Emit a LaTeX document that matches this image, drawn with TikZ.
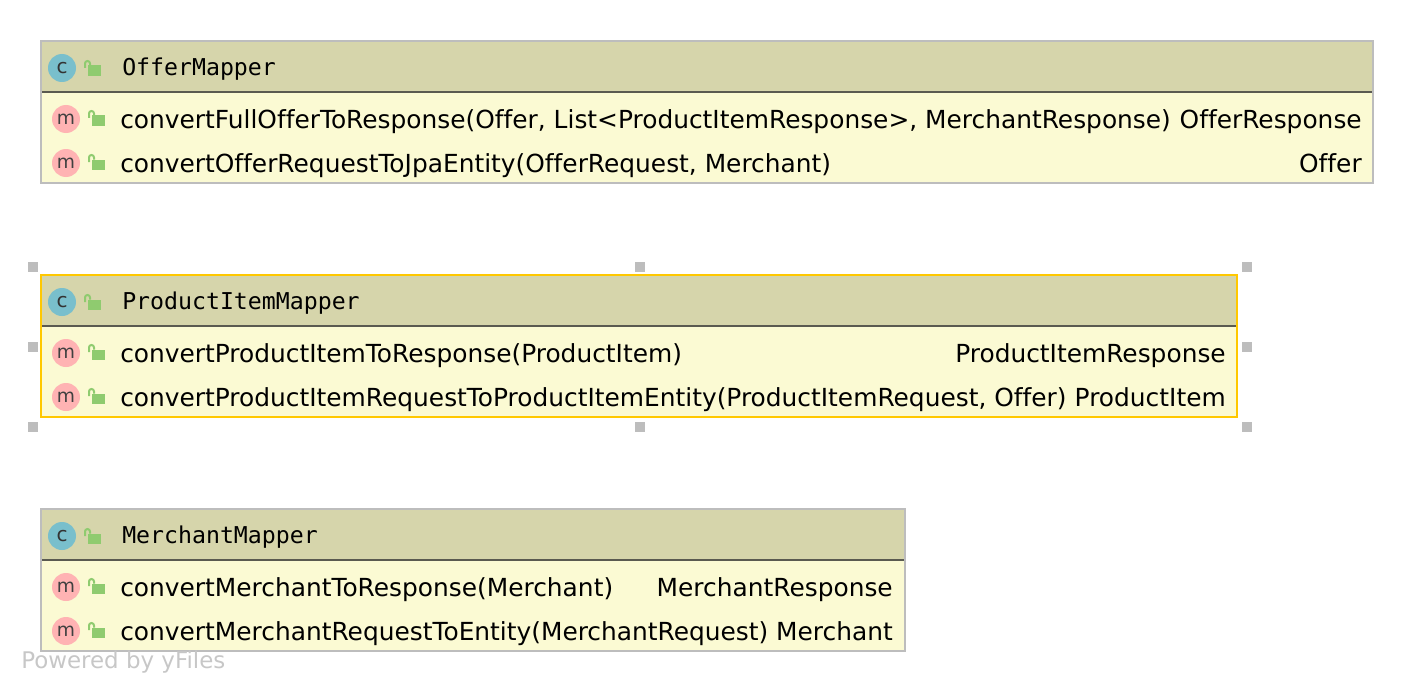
\documentclass[tikz,border=0pt]{standalone}
\usepackage{fontspec}
\setmainfont[Ligatures=NoCommon]{DejaVu Sans}
\setmonofont{DejaVu Sans Mono}
\usetikzlibrary{positioning}

\definecolor{headfill}{HTML}{D6D5AB}
\definecolor{bodyfill}{HTML}{FBFAD3}
\definecolor{plainedge}{HTML}{BDBDBD}
\definecolor{pickedge}{HTML}{FFC800}
\definecolor{rulecol}{HTML}{5A5A50}
\definecolor{classcol}{HTML}{79BFCC}
\definecolor{methodcol}{HTML}{FFB3B3}
\definecolor{lockcol}{HTML}{8FCB6F}

\tikzset{
    classbody/.style={anchor=north west, inner sep=0pt, outer sep=0pt, fill=bodyfill, minimum height=106.5pt},
    classhead/.style={anchor=north west, inner sep=0pt, outer sep=0pt, fill=headfill, minimum height=38.6pt},
    classedge/.style={anchor=north west, inner sep=0pt, outer sep=0pt, draw=#1, line width=1.5pt, minimum height=106.5pt},
    headrule/.style={draw=rulecol, line width=1.5pt},
    classicon/.style={circle, fill=classcol, minimum size=21pt, inner sep=0pt, text=black!80, font=\fontsize{15}{15}\selectfont},
    methodicon/.style={circle, fill=methodcol, minimum size=21pt, inner sep=0pt, text=black!75, font=\fontsize{14}{15}\selectfont},
    classname/.style={anchor=base west, inner sep=0pt, font=\ttfamily\fontsize{17.4}{20}\selectfont},
    member/.style={anchor=base west, inner sep=0pt, font=\fontsize{18.65}{22}\selectfont},
    returns/.style={anchor=base east, inner sep=0pt, font=\fontsize{18.65}{22}\selectfont},
    handle/.style={fill=plainedge, inner sep=0pt, minimum size=7.5pt},
    watermark/.style={anchor=base west, inner sep=0pt, text=black!22, font=\fontsize{17.2}{20}\selectfont},
    lock/.pic={
        \fill[lockcol] (-4,0) rectangle (8.5,10.5);
        \draw[lockcol, line width=1.5pt] (-7,2.5) -- (-7,-2) arc[start angle=180, end angle=0, x radius=2.5, y radius=-2.5] -- (-2,0);
    },
}

\begin{document}
\begin{tikzpicture}[x=0.75pt, y=-0.75pt]
    \useasboundingbox (0,0) rectangle (1414,692);

    % offer mapper
    \node [classbody, minimum width=999pt] (offerbody) at (41,41) {};
    \node [classhead, minimum width=999pt] (offerhead) at (41,41) {};
    \draw [headrule] (offerhead.south west) -- (offerhead.south east);
    \node [classedge=plainedge, minimum width=999pt] (offeredge) at (41,41) {};
    \node [classicon] (offerc) at (62,68) {c};
    \pic at (92,65.5) {lock};
    \node [classname] (offername) at (122,75) {OfferMapper};
    \node [methodicon] (offerm1) at (66,119) {m};
    \pic at (96,115.5) {lock};
    \node [member] (offertext1) at (120,128) {convertFullOfferToResponse(Offer, List<ProductItemResponse>, MerchantResponse)};
    \node [returns] (offerret1) at (1362,128) {OfferResponse};
    \node [methodicon] (offerm2) at (66,163) {m};
    \pic at (96,159.5) {lock};
    \node [member] (offertext2) at (120,172) {convertOfferRequestToJpaEntity(OfferRequest, Merchant)};
    \node [returns] (offerret2) at (1362,172) {Offer};

    % product item mapper
    \node [classbody, minimum width=897pt] (itembody) at (41,275) {};
    \node [classhead, minimum width=897pt] (itemhead) at (41,275) {};
    \draw [headrule] (itemhead.south west) -- (itemhead.south east);
    \node [classedge=pickedge, minimum width=897pt] (itemedge) at (41,275) {};
    \node [classicon] (itemc) at (62,302) {c};
    \pic at (92,299.5) {lock};
    \node [classname] (itemname) at (122,309) {ProductItemMapper};
    \node [methodicon] (itemm1) at (66,353) {m};
    \pic at (96,349.5) {lock};
    \node [member] (itemtext1) at (120,362) {convertProductItemToResponse(ProductItem)};
    \node [returns] (itemret1) at (1226,362) {ProductItemResponse};
    \node [methodicon] (itemm2) at (66,397) {m};
    \pic at (96,393.5) {lock};
    \node [member] (itemtext2) at (120,406) {convertProductItemRequestToProductItemEntity(ProductItemRequest, Offer)};
    \node [returns] (itemret2) at (1226,406) {ProductItem};

    % selection handles
    \foreach \hx/\hy in {33/267, 640/267, 1247/267, 33/347, 1247/347, 33/427, 640/427, 1247/427} {
        \node [handle] (handle\hx\hy) at (\hx,\hy) {};
    }

    % merchant mapper
    \node [classbody, minimum width=648pt] (merchbody) at (41,509) {};
    \node [classhead, minimum width=648pt] (merchhead) at (41,509) {};
    \draw [headrule] (merchhead.south west) -- (merchhead.south east);
    \node [classedge=plainedge, minimum width=648pt] (merchedge) at (41,509) {};
    \node [classicon] (merchc) at (62,536) {c};
    \pic at (92,533.5) {lock};
    \node [classname] (merchname) at (122,543) {MerchantMapper};
    \node [methodicon] (merchm1) at (66,587) {m};
    \pic at (96,583.5) {lock};
    \node [member] (merchtext1) at (120,596) {convertMerchantToResponse(Merchant)};
    \node [returns] (merchret1) at (893,596) {MerchantResponse};
    \node [methodicon] (merchm2) at (66,631) {m};
    \pic at (96,627.5) {lock};
    \node [member] (merchtext2) at (120,640) {convertMerchantRequestToEntity(MerchantRequest)};
    \node [returns] (merchret2) at (893,640) {Merchant};

    \node [watermark] (poweredby) at (21,668) {Powered by yFiles};
\end{tikzpicture}
\end{document}
